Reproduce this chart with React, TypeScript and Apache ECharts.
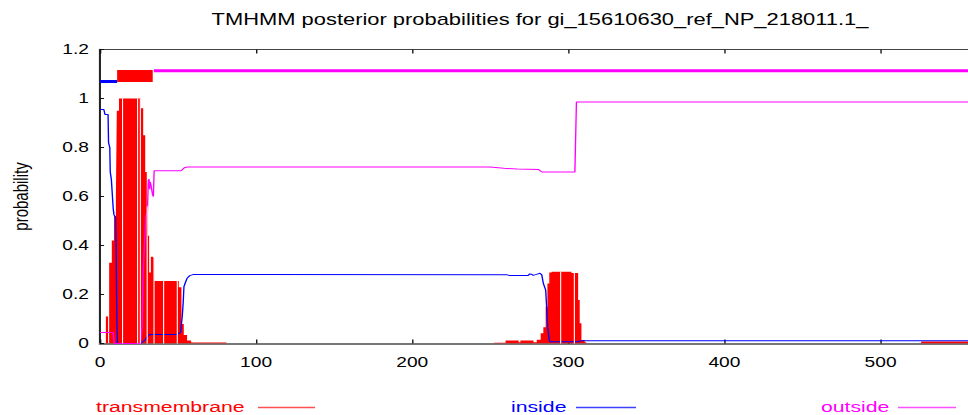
import React, { useEffect, useRef } from "react";
import * as echarts from "echarts";

// ---- data (residue position, posterior probability) ----
const chartTitle = "TMHMM posterior probabilities for gi_15610630_ref_NP_218011.1_";
const yAxisName = "probability";
const xTickValues = [0, 100, 200, 300, 400, 500];
const xEnd = 556;

const transmembrane: number[][] = [
  [0, 0], [3.8, 0.11], [5.2, 0], [5.9, 0.33], [7.6, 0.42], [9, 0.52], [10.2, 0.6], [10.8, 0.95],
  [12.2, 1.0], [26.2, 0.96], [27.7, 0.85], [29, 0.7], [30, 0.56], [30.8, 0.44], [31.5, 0.29],
  [32.6, 0.354], [34, 0.35], [34.7, 0.255], [50.5, 0.23], [52.2, 0.08], [53.7, 0.035],
  [55.8, 0.012], [58.4, 0.004], [81, 0], [252.4, 0.003], [259.8, 0.012], [268.2, 0.005],
  [269.3, 0.012], [277.7, 0.005], [279.8, 0.015], [282.3, 0.042], [284, 0.066], [285.5, 0.15],
  [286.6, 0.245], [287.8, 0.29], [289.3, 0.293], [302, 0.288], [306.3, 0.178], [307.3, 0.083],
  [308.4, 0.014], [310.5, 0.005], [311.5, 0], [526, 0.008], [556, 0.008],
];

const inside: number[][] = [
  [0, 0.955], [2.5, 0.955], [3.2, 0.935], [5.2, 0.935], [5.5, 0.82], [6.3, 0.8], [6.6, 0.7],
  [7.3, 0.67], [7.8, 0.62], [8.5, 0.55], [9, 0.525], [10, 0.515], [10.4, 0.38], [10.8, 0.1],
  [11.2, 0], [26, 0], [29, 0.015], [31, 0.035], [33, 0.037], [49.5, 0.037], [51.6, 0.045],
  [52.7, 0.11], [53.3, 0.165], [53.8, 0.232], [54.8, 0.25], [55.8, 0.266], [57.5, 0.277],
  [60, 0.282], [260.6, 0.281], [262, 0.278], [274.3, 0.278], [275.3, 0.284], [276.4, 0.283],
  [277.5, 0.278], [279.6, 0.282], [281.9, 0.287], [283, 0.28], [284, 0.245], [285.5, 0.218],
  [286.1, 0.15], [286.8, 0.068], [287.6, 0.02], [288.3, 0.007], [306.3, 0.007], [307.3, 0.011],
  [556, 0.011],
];

const outside: number[][] = [
  [0, 0.045], [8.5, 0.045], [9.2, 0], [26, 0], [27, 0.07], [27.6, 0.28], [28.5, 0.4],
  [29.5, 0.52], [30.4, 0.54], [31, 0.667], [31.5, 0.67], [31.8, 0.63], [32.1, 0.66],
  [32.6, 0.65], [33.2, 0.65], [33.6, 0.61], [34.2, 0.6], [34.7, 0.705], [52, 0.705],
  [54, 0.717], [56, 0.72], [250, 0.72], [258.7, 0.715], [267.2, 0.712], [281, 0.71],
  [283, 0.7], [304.2, 0.7], [305.2, 0.986], [556, 0.986],
];

// predicted topology bars above the curves
const topInside: number[][] = [[0, 1.069], [11, 1.069]];
const topTransmembrane: number[][] = [[11, 1.092], [33.8, 1.092]];
const topOutside: number[][] = [[34.5, 1.113], [556, 1.113]];

// thin white gaps between the impulses of the red area
const impulseGaps = [14.4, 23.7, 25.6, 30.0, 34.2, 40.4, 49.2, 295.1, 303.8];

const legendItems = [
  { name: "transmembrane", color: "#ff0000", line: "#ff5050" },
  { name: "inside", color: "#0000ff", line: "#4040ff" },
  { name: "outside", color: "#ff00ff", line: "#ff50ff" },
];

// ---- layout ----
const UW = 707; // unstretched width, stretched to 968 px
const S = 968 / UW;
const H = 415;
const FONT = "'Liberation Sans', Arial, Helvetica, sans-serif";
const u = (realX: number) => realX / S;

function tmAt(x: number): number {
  let v = 0;
  for (const [px, py] of transmembrane) {
    if (px <= x) v = py;
    else break;
  }
  return v;
}

export default function App() {
  const ref = useRef<HTMLDivElement>(null);

  useEffect(() => {
    if (!ref.current) return;
    const chart = echarts.init(ref.current, undefined, { renderer: "svg" });

    const legendY = 406.5;
    const legendPos = [
      { text: u(96), lineFrom: u(258), lineTo: u(315) },
      { text: u(511), lineFrom: u(576), lineTo: u(636) },
      { text: u(821), lineFrom: u(898), lineTo: u(956) },
    ];

    const graphic: any[] = [
      {
        type: "text",
        x: u(540),
        y: 20,
        style: {
          text: chartTitle,
          fill: "#000",
          font: `16px ${FONT}`,
          textAlign: "center",
          textVerticalAlign: "middle",
        },
      },
    ];
    legendItems.forEach((it, i) => {
      const p = legendPos[i];
      graphic.push({
        type: "text",
        x: p.text,
        y: legendY,
        style: {
          text: it.name,
          fill: it.color,
          font: `15.5px ${FONT}`,
          textAlign: "left",
          textVerticalAlign: "middle",
        },
      });
      graphic.push({
        type: "line",
        shape: { x1: p.lineFrom, y1: legendY + 1, x2: p.lineTo, y2: legendY + 1 },
        style: { stroke: it.line, lineWidth: 1.5 },
      });
    });

    const xCommon = {
      type: "value",
      min: 0,
      max: xEnd,
      interval: 100,
      splitLine: { show: false },
    };

    chart.setOption({
      animation: false,
      backgroundColor: "#fff",
      grid: { left: u(91.5), right: 0, top: 49.5, bottom: 71.5, containLabel: false },
      xAxis: [
        {
          ...xCommon,
          position: "bottom",
          axisLine: { show: true, lineStyle: { color: "#777", width: 2 } },
          axisTick: { show: true, inside: true, length: 4, lineStyle: { color: "#111", width: 1 } },
          axisLabel: {
            show: true,
            fontSize: 14,
            fontFamily: FONT,
            color: "#000",
            margin: 12,
            showMaxLabel: false,
            formatter: (v: number) => (xTickValues.includes(v) ? String(v) : ""),
          },
        },
        {
          ...xCommon,
          position: "top",
          axisLine: { show: true, lineStyle: { color: "#444", width: 1 } },
          axisTick: { show: true, inside: true, length: 4, lineStyle: { color: "#111", width: 1 } },
          axisLabel: { show: false },
        },
      ],
      yAxis: {
        type: "value",
        min: 0,
        max: 1.2,
        interval: 0.2,
        name: yAxisName,
        nameLocation: "middle",
        nameRotate: 90,
        nameGap: 50,
        nameTextStyle: { fontSize: 15, fontFamily: FONT, color: "#000" },
        axisLine: { show: true, lineStyle: { color: "#222", width: 1.5 } },
        axisTick: { show: true, inside: true, length: 3, lineStyle: { color: "#111", width: 1 } },
        axisLabel: { fontSize: 14, fontFamily: FONT, color: "#000", margin: 8 },
        splitLine: { show: false },
      },
      series: [
        {
          name: "transmembrane",
          type: "line",
          data: transmembrane,
          step: "end",
          symbol: "none",
          z: 2,
          lineStyle: { width: 0, color: "#ff0000" },
          areaStyle: { color: "#ff0000", opacity: 1 },
          markLine: {
            silent: true,
            symbol: "none",
            label: { show: false },
            lineStyle: { color: "#ffffff", width: 0.8, type: "solid" },
            data: impulseGaps.map((x) => [{ coord: [x, 0] }, { coord: [x, tmAt(x)] }]),
          },
        },
        {
          name: "inside",
          type: "line",
          data: inside,
          symbol: "none",
          z: 3,
          lineStyle: { width: 1, color: "#0000ff" },
        },
        {
          name: "outside",
          type: "line",
          data: outside,
          symbol: "none",
          z: 3,
          lineStyle: { width: 1, color: "#ff00ff" },
        },
        {
          name: "inside topology",
          type: "line",
          data: topInside,
          symbol: "none",
          z: 3,
          lineStyle: { width: 3, color: "#0000ff", cap: "butt" },
        },
        {
          name: "transmembrane topology",
          type: "line",
          data: topTransmembrane,
          symbol: "none",
          z: 3,
          lineStyle: { width: 12, color: "#ff0000", cap: "butt" },
        },
        {
          name: "outside topology",
          type: "line",
          data: topOutside,
          symbol: "none",
          z: 3,
          lineStyle: { width: 3, color: "#ff00ff", cap: "butt" },
        },
      ],
      graphic,
    });

    return () => chart.dispose();
  }, []);

  return (
    <div
      style={{
        position: "fixed",
        left: 0,
        top: 0,
        width: 968,
        height: H,
        overflow: "hidden",
        background: "#fff",
      }}
    >
      <div
        ref={ref}
        style={{
          width: UW,
          height: H,
          transform: `scaleX(${S})`,
          transformOrigin: "0 0",
        }}
      />
    </div>
  );
}
